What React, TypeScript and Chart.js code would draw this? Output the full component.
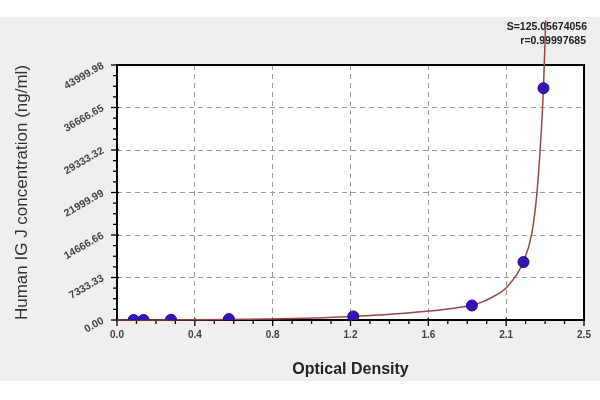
import React, { useEffect, useRef } from "react";
import { Chart, registerables } from "chart.js";

Chart.register(...registerables);

// Standard points (OD vs concentration)
const odPoints = [0.089, 0.142, 0.289, 0.599, 1.265, 1.9, 2.176, 2.283];
const concPoints = [0, 10, 39, 156, 625, 2500, 10000, 40000];

// Fitted curve
const curveOD = [0.0, 0.2, 0.4, 0.6, 0.8, 1.0, 1.2, 1.375, 1.555, 1.748, 1.855, 1.946, 2.0, 2.088, 2.175, 2.221, 2.248, 2.265, 2.283, 2.295];
const curveConc = [0, 8, 30, 75, 170, 300, 520, 820, 1220, 1820, 2280, 3000, 3800, 5700, 10000, 15000, 21900, 29300, 40000, 51700];

const xTickValues = [0, 0.4167, 0.8333, 1.25, 1.6667, 2.0833, 2.5];
const xTickLabels = ["0.0", "0.4", "0.8", "1.2", "1.6", "2.1", "2.5"];
const yTickValues = [0, 7333.33, 14666.66, 21999.99, 29333.32, 36666.65, 43999.98];
const yTickLabels = ["0.00", "7333.33", "14666.66", "21999.99", "29333.32", "36666.65", "43999.98"];

const fitText = ["S=125.05674056", "r=0.99997685"];

const FONT = "'Liberation Sans', Arial, sans-serif";

const decorPlugin = {
  id: "decor",
  beforeDraw(chart: any) {
    const { ctx, width, height, chartArea } = chart;
    ctx.save();
    ctx.fillStyle = "#ffffff";
    ctx.fillRect(0, 0, width, height);
    ctx.fillStyle = "#efefef";
    ctx.fillRect(0, 17, width, 364);
    ctx.fillStyle = "#ffffff";
    ctx.fillRect(chartArea.left, chartArea.top, chartArea.right - chartArea.left, chartArea.bottom - chartArea.top);
    ctx.restore();
  },
  beforeDatasetsDraw(chart: any) {
    const { ctx, chartArea, scales } = chart;
    const xs = scales.x;
    const ys = scales.y;
    ctx.save();
    ctx.strokeStyle = "#000";
    ctx.lineWidth = 1.3;
    // y ticks
    for (let i = 0; i < yTickValues.length; i++) {
      const p = ys.getPixelForValue(yTickValues[i]);
      ctx.beginPath();
      ctx.moveTo(chartArea.left - 6, p);
      ctx.lineTo(chartArea.left + 2, p);
      ctx.stroke();
      if (i < yTickValues.length - 1) {
        const step = (yTickValues[i + 1] - yTickValues[i]) / 4;
        for (let k = 1; k < 4; k++) {
          const q = ys.getPixelForValue(yTickValues[i] + k * step);
          ctx.beginPath();
          ctx.moveTo(chartArea.left - 4, q);
          ctx.lineTo(chartArea.left, q);
          ctx.stroke();
        }
      }
    }
    // x ticks
    for (let i = 0; i < xTickValues.length; i++) {
      const p = xs.getPixelForValue(xTickValues[i]);
      ctx.beginPath();
      ctx.moveTo(p, chartArea.bottom - 2);
      ctx.lineTo(p, chartArea.bottom + 6);
      ctx.stroke();
      if (i < xTickValues.length - 1) {
        const step = (xTickValues[i + 1] - xTickValues[i]) / 4;
        for (let k = 1; k < 4; k++) {
          const q = xs.getPixelForValue(xTickValues[i] + k * step);
          ctx.beginPath();
          ctx.moveTo(q, chartArea.bottom);
          ctx.lineTo(q, chartArea.bottom + 4);
          ctx.stroke();
        }
      }
    }
    // frame
    ctx.lineWidth = 2;
    ctx.strokeRect(chartArea.left, chartArea.top, chartArea.right - chartArea.left, chartArea.bottom - chartArea.top);
    // fit text
    ctx.fillStyle = "#222";
    ctx.font = `bold 10.5px ${FONT}`;
    ctx.textAlign = "right";
    ctx.textBaseline = "middle";
    ctx.fillText(fitText[0], 587, 27);
    ctx.fillText(fitText[1], 586, 41);
    ctx.restore();
  },
};

export default function App() {
  const ref = useRef<HTMLCanvasElement | null>(null);
  useEffect(() => {
    document.body.style.margin = "0";
    if (!ref.current) return;
    const chart = new Chart(ref.current, {
      type: "scatter",
      data: {
        datasets: [
          {
            label: "points",
            data: odPoints.map((x, i) => ({ x, y: concPoints[i] })),
            backgroundColor: "#3414b4",
            borderColor: "#1d0a85",
            borderWidth: 1,
            pointRadius: 5.5,
            showLine: false,
            order: 0,
          },
          {
            label: "curve",
            data: curveOD.map((x, i) => ({ x, y: curveConc[i] })),
            borderColor: "#9a4646",
            borderWidth: 1.5,
            pointRadius: 0,
            showLine: true,
            cubicInterpolationMode: "monotone",
            clip: false as any,
            order: 1,
          },
        ],
      },
      options: {
        animation: false,
        responsive: false,
        layout: { padding: { top: 65, right: 16, left: 0, bottom: 0 } },
        plugins: { legend: { display: false }, tooltip: { enabled: false } },
        scales: {
          x: {
            type: "linear",
            min: 0,
            max: 2.5,
            afterBuildTicks: (s: any) => {
              s.ticks = xTickValues.map((v) => ({ value: v }));
            },
            afterFit: (s: any) => {
              s.height = 80;
            },
            ticks: {
              padding: 9,
              color: "#444",
              font: { family: FONT, size: 10, weight: "bold" },
              callback: (_v: any, i: number) => xTickLabels[i],
              maxRotation: 0,
              minRotation: 0,
            },
            grid: {
              drawTicks: false,
              color: "#9a9a9a",
              lineWidth: 1,
            },
            border: { display: false, dash: [5, 4] },
            title: {
              display: true,
              text: "Optical Density",
              color: "#222",
              font: { family: FONT, size: 16, weight: "bold" },
              padding: { top: 0, bottom: 21 },
            },
          },
          y: {
            type: "linear",
            min: 0,
            max: 43999.98,
            afterBuildTicks: (s: any) => {
              s.ticks = yTickValues.map((v) => ({ value: v }));
            },
            afterFit: (s: any) => {
              s.width = 117;
            },
            ticks: {
              padding: 14,
              color: "#444",
              font: { family: FONT, size: 10.5, weight: "bold" },
              callback: (_v: any, i: number) => yTickLabels[i],
              minRotation: 30,
              maxRotation: 30,
            },
            grid: {
              drawTicks: false,
              color: "#9a9a9a",
              lineWidth: 1,
            },
            border: { display: false, dash: [5, 4] },
            title: {
              display: true,
              text: "Human IG J concentration (ng/ml)",
              color: "#333",
              font: { family: FONT, size: 17, weight: "normal" },
              padding: { top: 12, bottom: 0 },
            },
          },
        },
      },
      plugins: [decorPlugin],
    });
    return () => chart.destroy();
  }, []);
  return (
    <div style={{ width: 600, height: 400 }}>
      <canvas ref={ref} width={600} height={400} style={{ display: "block" }} />
    </div>
  );
}
